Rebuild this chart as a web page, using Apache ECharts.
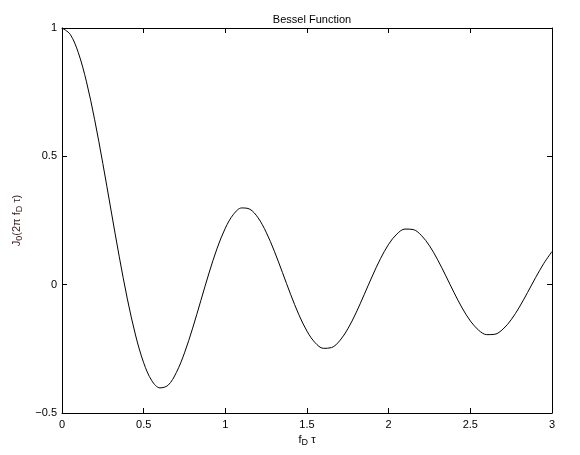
<!DOCTYPE html>
<html>
<head>
<meta charset="utf-8">
<script src="https://cdn.jsdelivr.net/npm/echarts@6/dist/echarts.min.js"></script>
<style>
  html, body { margin: 0; padding: 0; background: #fff; }
  #main { width: 580px; height: 455px; }
</style>
</head>
<body>
<div id="main"></div>
<script>
  // f_D * tau samples (step 0.05) and J0 values
  var tau = [0, 0.05, 0.1, 0.15, 0.2, 0.25, 0.3, 0.35, 0.4, 0.45,
    0.5, 0.55, 0.6, 0.65, 0.7, 0.75, 0.8, 0.85, 0.9, 0.95,
    1.0, 1.05, 1.1, 1.15, 1.2, 1.25, 1.3, 1.35, 1.4, 1.45,
    1.5, 1.55, 1.6, 1.65, 1.7, 1.75, 1.8, 1.85, 1.9, 1.95,
    2.0, 2.05, 2.1, 2.15, 2.2, 2.25, 2.3, 2.35, 2.4, 2.45,
    2.5, 2.55, 2.6, 2.65, 2.7, 2.75, 2.8, 2.85, 2.9, 2.95, 3.0]
  var j0 = [1.0, 0.9755, 0.9037, 0.79, 0.6425, 0.472, 0.2906, 0.1109, -0.0552, -0.1962,
    -0.3042, -0.3743, -0.4022, -0.3916, -0.3425, -0.2658, -0.1692, -0.062, 0.0452, 0.1422,
    0.2203, 0.2741, 0.2989, 0.294, 0.2611, 0.2045, 0.1306, 0.0468, -0.0383, -0.1168,
    -0.1813, -0.2263, -0.248, -0.2452, -0.2188, -0.1721, -0.1101, -0.0391, 0.0337, 0.1014,
    0.1576, 0.1971, 0.2167, 0.2148, 0.1921, 0.1514, 0.0969, 0.0342, -0.0305, -0.0909,
    -0.1412, -0.1769, -0.1947, -0.1933, -0.1732, -0.1367, -0.0876, -0.0308, 0.028, 0.083, 0.1291]
  var xTicks = [0, 0.5, 1, 1.5, 2, 2.5, 3]
  var yTicks = [-0.5, 0, 0.5, 1]

  var points = []
  for (var i = 0; i < tau.length; i++) {
    points.push([tau[i], j0[i]])
  }

  var font = '"Liberation Sans", Arial, sans-serif'
  var tickStyle = { show: true, inside: true, length: 5, lineStyle: { color: '#000', width: 1 } }
  var lineStyle = { show: true, onZero: false, lineStyle: { color: '#000', width: 1 } }

  var myChart = echarts.init(document.getElementById('main'))
  var option = {
    backgroundColor: '#fff',
    animation: false,
    title: {
      text: 'Bessel Function',
      left: 307,
      textAlign: 'center',
      top: 9,
      textStyle: { fontFamily: font, fontSize: 11, fontWeight: 'normal', color: '#000' }
    },
    grid: { left: 62, right: 28, top: 28, bottom: 42 },
    xAxis: [
      {
        type: 'value',
        min: 0, max: 3, interval: 0.5,
        position: 'bottom',
        axisLine: lineStyle,
        axisTick: tickStyle,
        splitLine: { show: false },
        axisLabel: {
          fontFamily: font, fontSize: 11, color: '#000', margin: 6,
          formatter: function (v) { return xTicks.indexOf(v) >= 0 ? String(v) : '' }
        },
        name: '{n|f}{s|D}{n| τ}',
        nameLocation: 'middle',
        nameGap: 20,
        nameTextStyle: {
          rich: {
            n: { fontFamily: font, fontSize: 11, color: '#000' },
            s: { fontFamily: font, fontSize: 9, color: '#000', verticalAlign: 'bottom', padding: [5, 0, 0, 0] }
          }
        }
      },
      {
        type: 'value',
        min: 0, max: 3, interval: 0.5,
        position: 'top',
        axisLine: lineStyle,
        axisTick: tickStyle,
        axisLabel: { show: false },
        splitLine: { show: false }
      }
    ],
    yAxis: [
      {
        type: 'value',
        min: -0.5, max: 1, interval: 0.5,
        position: 'left',
        axisLine: lineStyle,
        axisTick: tickStyle,
        splitLine: { show: false },
        axisLabel: {
          fontFamily: font, fontSize: 11, color: '#000', margin: 5,
          formatter: function (v) { return yTicks.indexOf(v) >= 0 ? String(v).replace('-', '\u2212') : '' }
        },
        name: '{n|J}{s|0}{n|(2π f}{s|D}{n| τ)}',
        nameLocation: 'middle',
        nameGap: 34,
        nameRotate: 90,
        nameTextStyle: {
          rich: {
            n: { fontFamily: font, fontSize: 11, color: '#3a1a1a' },
            s: { fontFamily: font, fontSize: 9, color: '#3a1a1a', verticalAlign: 'bottom', padding: [5, 0, 0, 0] }
          }
        }
      },
      {
        type: 'value',
        min: -0.5, max: 1, interval: 0.5,
        position: 'right',
        axisLine: lineStyle,
        axisTick: tickStyle,
        axisLabel: { show: false },
        splitLine: { show: false }
      }
    ],
    series: [
      {
        type: 'line',
        data: points,
        smooth: 0.34,
        showSymbol: false,
        lineStyle: { color: '#000', width: 1 }
      }
    ]
  }
  myChart.setOption(option)
</script>
</body>
</html>
